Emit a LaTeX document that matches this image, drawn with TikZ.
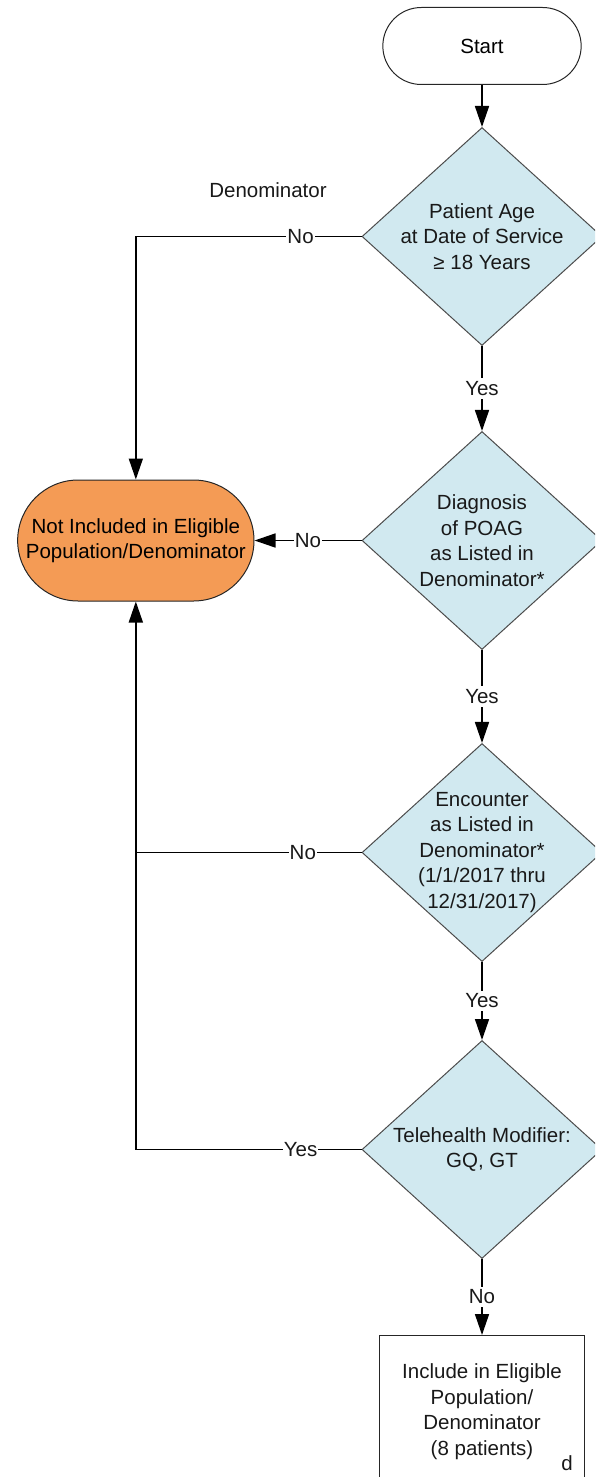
\documentclass[tikz,border=0pt]{standalone}
\usepackage{fontspec}
\setmainfont{Liberation Sans}
\usepackage{tikz}
\usetikzlibrary{arrows.meta,positioning,shapes.geometric,shapes.misc}
\definecolor{decisionblue}{RGB}{209,233,240}
\definecolor{excludeorange}{RGB}{244,155,85}
\newcommand{\flowfont}{\fontsize{20.5}{25.5}\selectfont}
\tikzset{terminal/.style={
    % The shape:
    rounded rectangle,
    % The size:
    minimum width=205pt,
    minimum height=77pt,
    % The border:
    line width=1pt,
    draw=black!85,
    },
    exclude/.style={
    terminal,
    minimum width=243pt,
    minimum height=121pt,
    fill=excludeorange,
    },
    decision/.style={
    diamond,
    minimum width=240pt,
    minimum height=218pt,
    inner sep=0pt,
    line width=1pt,
    draw=black!70,
    fill=decisionblue,
    },
    dtext/.style={
    anchor=center,
    align=center,
    text=black!90,
    },
    outcome/.style={
    rectangle,
    minimum width=205pt,
    minimum height=152pt,
    align=center,
    line width=1pt,
    draw=black!85,
    },
    flow/.style={line width=1.6pt, -{Triangle[length=21pt,width=14pt]}},
    joinline/.style={line width=1.6pt},
    answer/.style={fill=white, inner xsep=1pt, inner ysep=3pt, text=black!90},
}

\begin{document}
\begin{tikzpicture}[x=1pt, y=1pt, font=\flowfont]
    \useasboundingbox (0,0) rectangle (595,-1477);
    \clip (0,0) rectangle (595,-1477);

    \node (start)   [terminal] at (482,-46) {Start};
    \node (age)     [decision,below=42pt of start,
                     label={[dtext]center:{Patient Age\\at Date of Service\\≥ 18 Years}}] {};
    \node (diag)    [decision,below=85pt of age,
                     label={[dtext]center:{Diagnosis\\of POAG\\as Listed in\\Denominator*}}] {};
    \node (enc)     [decision,below=93pt of diag,
                     label={[dtext]center:{Encounter\\as Listed in\\Denominator*\\(1/1/2017 thru\\12/31/2017)}}] {};
    \node (tele)    [decision,below=78pt of enc,
                     label={[dtext]center:{Telehealth Modifier:\\GQ, GT}}] {};
    \node (include) [outcome,below=76pt of tele,text=black!90] {Include in Eligible\\Population/\\Denominator\\(8 patients)};
    \node (dmark)   [text=black!90] at (567,-1463) {d};

    \node (notincl) [exclude,left=107pt of diag,align=center] {Not Included in Eligible\\Population/Denominator};
    \node (denomtitle) [text=black!90] at (268,-190) {Denominator};
    \coordinate (encjoin) at (enc.west -| notincl.south);

    \draw[flow] (start) -- (age);
    \draw[flow] (age) -- node[answer]{Yes} (diag);
    \draw[flow] (diag) -- node[answer]{Yes} (enc);
    \draw[flow] (enc) -- node[answer]{Yes} (tele);
    \draw[flow] (tele) -- node[answer]{No} (include);

    \draw[flow] (age.west) -| node[answer,pos=0.135]{No} (notincl.north);
    \draw[flow] (diag.west) -- node[answer]{No} (notincl.east);
    \draw[joinline] (enc.west) -- node[answer,pos=0.26]{No} (encjoin);
    \draw[flow] (tele.west) -| node[answer,pos=0.135]{Yes} (notincl.south);
\end{tikzpicture}
\end{document}
